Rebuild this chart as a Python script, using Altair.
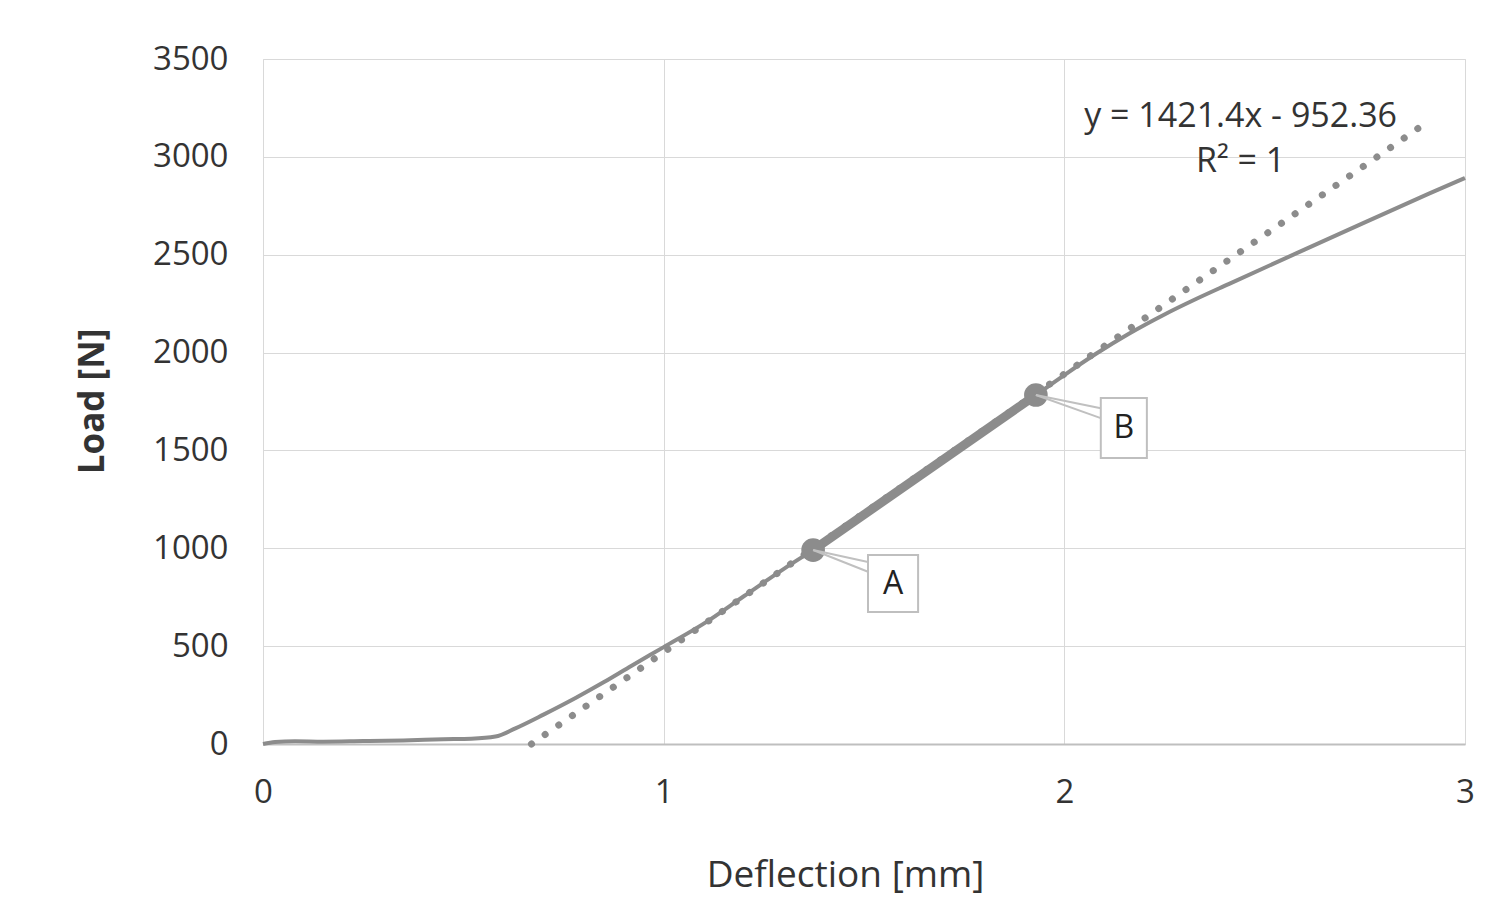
import altair as alt
import pandas as pd

# Measured load-deflection curve
deflection = [0.0, 0.03, 0.08, 0.15, 0.25, 0.35, 0.45, 0.52, 0.58, 0.63, 0.70, 0.78, 0.85, 0.92, 1.0,
              1.1, 1.2, 1.3, 1.373, 1.929, 2.0, 2.08, 2.16, 2.25, 2.33, 2.41, 2.58, 2.75, 2.91, 3.0]
load = [0, 10, 14, 12, 15, 18, 24, 27, 38, 80, 150, 235, 315, 400, 495,
        615, 755, 895, 991, 1783, 1885, 1995, 2095, 2195, 2275, 2350, 2508, 2665, 2812, 2892]

# Linear fit region A-B
fit_x = [1.373, 1.929]
fit_y = [991, 1783]
points = ["A", "B"]

# Trendline y = 1421.4x - 952.36
slope = 1421.4
intercept = -952.36
trend_x = [0.67, 2.9]

# Callout annotations (data coordinates)
box_x = [1.510, 2.091]
box_x2 = [1.635, 2.206]
box_y = [966, 1768]
box_y2 = [674, 1461]
lead_y_top = [930, 1715]
lead_y_bot = [880, 1665]

grid_col = "#d9d9d9"
line_col = "#8c8c8c"
txt_col = "#333333"
font = "Open Sans"

df = pd.DataFrame({"x": deflection, "y": load})
df_ab = pd.DataFrame({"x": fit_x, "y": fit_y, "p": points})
df_tr = pd.DataFrame({"x": trend_x, "y": [slope * v + intercept for v in trend_x]})
df_box = pd.DataFrame({"x": box_x, "x2": box_x2, "y": box_y, "y2": box_y2, "p": points,
                       "px": fit_x, "py": fit_y, "lt": lead_y_top, "lb": lead_y_bot})
df_box["cx"] = (df_box["x"] + df_box["x2"]) / 2
df_box["cy"] = (df_box["y"] + df_box["y2"]) / 2

xs = alt.Scale(domain=[0, 3], nice=False)
ys = alt.Scale(domain=[0, 3500], nice=False)

xaxis = alt.Axis(values=[0, 1, 2, 3], format="d", title="Deflection [mm]", grid=True,
                 gridColor=grid_col, domainColor="#bfbfbf", domainWidth=2, ticks=False,
                 labelFlush=False, labelOverlap=False,
                 labelFontSize=33, labelFont=font, labelColor=txt_col, labelPadding=32,
                 titleFontSize=37, titleFont=font, titleColor=txt_col, titleFontWeight="normal",
                 titleX=582, titleY=131, titleBaseline="middle")
yaxis = alt.Axis(values=list(range(0, 3501, 500)), format="d", title="Load [N]", grid=True,
                 gridColor=grid_col, domain=False, ticks=False, labelFlush=False,
                 labelFontSize=33, labelFont=font, labelColor=txt_col, labelPadding=35,
                 titleFontSize=35, titleFont=font, titleColor=txt_col, titleFontWeight="bold",
                 titleX=-171, titleY=342, titleAngle=270, titleBaseline="middle", titleAlign="center")

trend = alt.Chart(df_tr).mark_line(color=line_col, strokeWidth=7, strokeDash=[0.1, 16.5],
                                   strokeCap="round").encode(
    x=alt.X("x:Q", scale=xs, axis=xaxis), y=alt.Y("y:Q", scale=ys, axis=yaxis))

curve = alt.Chart(df).mark_line(color=line_col, strokeWidth=4, interpolate="monotone").encode(x="x:Q", y="y:Q")
seg = alt.Chart(df_ab).mark_line(color=line_col, strokeWidth=9).encode(x="x:Q", y="y:Q")
dots = alt.Chart(df_ab).mark_point(filled=True, color=line_col, size=560, opacity=1).encode(x="x:Q", y="y:Q")

lead1 = alt.Chart(df_box).mark_rule(color="#c0c0c0", strokeWidth=2).encode(
    x="px:Q", y="py:Q", x2="x:Q", y2="lt:Q")
lead2 = alt.Chart(df_box).mark_rule(color="#c0c0c0", strokeWidth=2).encode(
    x="px:Q", y="py:Q", x2="x:Q", y2="lb:Q")
boxes = alt.Chart(df_box).mark_rect(fill="white", stroke="#bfbfbf", strokeWidth=2).encode(
    x="x:Q", x2="x2:Q", y="y:Q", y2="y2:Q")
labels = alt.Chart(df_box).mark_text(fontSize=32, font=font, color="#222222", baseline="middle").encode(
    x="cx:Q", y="cy:Q", text="p:N")

eq = alt.Chart(pd.DataFrame({"x": [2.44, 2.44], "y": [3205, 2975],
                             "t": ["y = 1421.4x - 952.36", "R² = 1"]})).mark_text(
    fontSize=34, font=font, color=txt_col, baseline="middle").encode(x="x:Q", y="y:Q", text="t:N")

chart = alt.layer(trend, curve, seg, dots, lead1, lead2, boxes, labels, eq).properties(
    width=1202, height=685,
    autosize=alt.AutoSizeParams(type="none"),
    padding={"left": 255, "top": 51, "right": 32, "bottom": 163},
).configure_view(stroke=None).configure(background="white")

chart.save("out.html", embed_options={"renderer": "svg", "actions": False})
